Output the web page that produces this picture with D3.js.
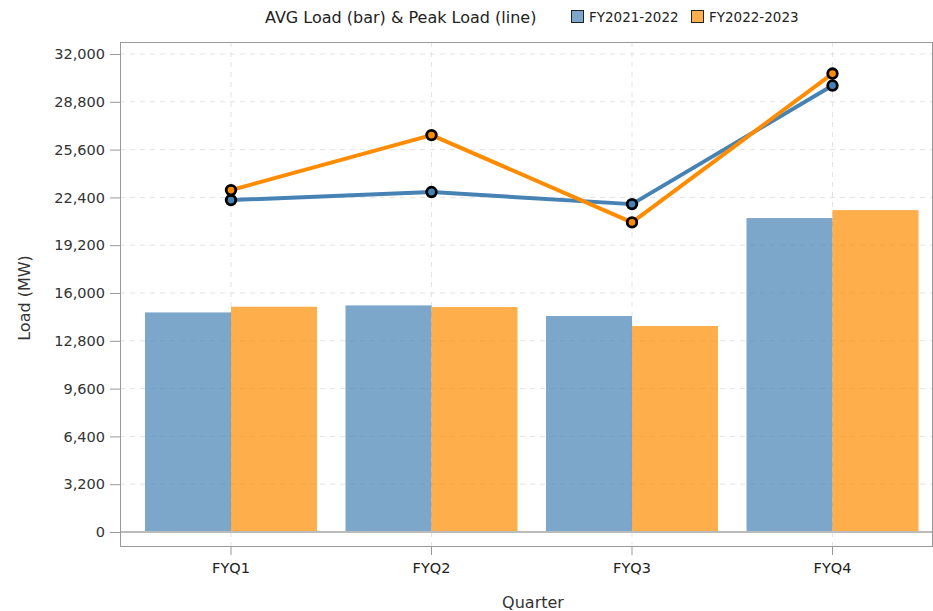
<!DOCTYPE html>
<html><head><meta charset="utf-8">
<script src="https://cdn.jsdelivr.net/npm/d3@7"></script>
<style>body{margin:0;background:#fff;font-family:"DejaVu Sans",sans-serif;}</style>
</head><body><svg id="c" width="933" height="611"></svg>
<script>
const quarters = ["FYQ1","FYQ2","FYQ3","FYQ4"];
const seriesNames = ["FY2021-2022","FY2022-2023"];
const avgLoad2122 = [14700, 15170, 14460, 21020];
const avgLoad2223 = [15080, 15060, 13790, 21550];
const peakLoad2122 = [22220, 22760, 21950, 29890];
const peakLoad2223 = [22890, 26570, 20730, 30690];
const yTicks = [0,3200,6400,9600,12800,16000,19200,22400,25600,28800,32000];
const colors = ["#4682b4","#ff8c00"];

const svg = d3.select("#c");
const fL=120, fR=932, fT=42, fB=546;
const x = d3.scaleBand().domain(quarters).range([130.75,932.75]).paddingInner(0.142).paddingOuter(0.071);
const xc = d => x(d)+x.bandwidth()/2;
const xs = d3.scaleBand().domain(seriesNames).range([0,x.bandwidth()]);
const y = d3.scaleLinear().domain([0,32000]).range([532,54]);

// grid
const g = svg.append("g");
g.selectAll(".hg").data(yTicks).join("line").attr("x1",fL).attr("x2",fR)
 .attr("y1",d=>y(d)).attr("y2",d=>y(d)).attr("stroke","#e3e3e3").attr("stroke-dasharray","5,5");
g.selectAll(".vg").data(quarters).join("line").attr("x1",d=>xc(d)).attr("x2",d=>xc(d))
 .attr("y1",fT).attr("y2",fB).attr("stroke","#e3e3e3").attr("stroke-dasharray","5,5");

// bars
const avg = [avgLoad2122, avgLoad2223];
seriesNames.forEach((s,si)=>{
  svg.append("g").selectAll("rect").data(quarters).join("rect")
   .attr("x",d=>x(d)+xs(s)).attr("width",xs.bandwidth())
   .attr("y",(d,i)=>y(avg[si][i])).attr("height",(d,i)=>y(0)-y(avg[si][i]))
   .attr("fill",colors[si]).attr("fill-opacity",0.7);
});
// zero line
svg.append("line").attr("x1",fL).attr("x2",fR).attr("y1",y(0)).attr("y2",y(0)).attr("stroke","#bbb").attr("stroke-width",2);

// lines
const peak=[peakLoad2122, peakLoad2223];
seriesNames.forEach((s,si)=>{
  const line = d3.line().x((d,i)=>xc(quarters[i])).y(d=>y(d));
  svg.append("path").datum(peak[si]).attr("d",line).attr("fill","none")
   .attr("stroke",colors[si]).attr("stroke-width",4).attr("stroke-linejoin","round");
});
seriesNames.forEach((s,si)=>{
  svg.append("g").selectAll("circle").data(peak[si]).join("circle")
   .attr("cx",(d,i)=>xc(quarters[i])).attr("cy",d=>y(d)).attr("r",4.8)
   .attr("fill",colors[si]).attr("stroke","#000").attr("stroke-width",2.8);
});

// frame
svg.append("rect").attr("x",fL+0.5).attr("y",fT+0.5).attr("width",fR-fL).attr("height",fB-fT)
 .attr("fill","none").attr("stroke","#999");

// y axis
const ya = svg.append("g").attr("transform",`translate(${fL},0)`)
 .call(d3.axisLeft(y).tickValues(yTicks).tickFormat(d3.format(",")).tickSize(10).tickPadding(5));
ya.select(".domain").remove();
ya.selectAll("line").attr("stroke","#999");
ya.selectAll("text").attr("font-size",14.5).attr("fill","#333").attr("font-family","DejaVu Sans");
// x axis
const xa = svg.append("g").attr("transform",`translate(0,${fB})`)
 .call(d3.axisBottom(x).tickSize(9).tickPadding(8));
xa.select(".domain").remove();
xa.selectAll("line").attr("stroke","#999");
xa.selectAll("text").attr("font-size",14.5).attr("fill","#222").attr("font-family","DejaVu Sans");

svg.append("text").attr("x",533).attr("y",608).attr("text-anchor","middle")
 .attr("font-size",16).attr("fill","#333").text("Quarter");
svg.append("text").attr("transform","translate(30,298) rotate(-90)").attr("text-anchor","middle")
 .attr("font-size",16).attr("fill","#333").text("Load (MW)");

// legend
svg.append("text").attr("x",265).attr("y",23).attr("font-size",16).attr("fill","#222")
 .text("AVG Load (bar) & Peak Load (line)");
const lx=[571,691];
seriesNames.forEach((s,si)=>{
  svg.append("rect").attr("x",lx[si]+0.5).attr("y",10.5).attr("width",12).attr("height",12)
   .attr("fill",colors[si]).attr("fill-opacity",0.7).attr("stroke","#222");
  svg.append("text").attr("x",lx[si]+18).attr("y",22).attr("font-size",13.5).attr("fill","#222").text(s);
});
</script></body></html>
